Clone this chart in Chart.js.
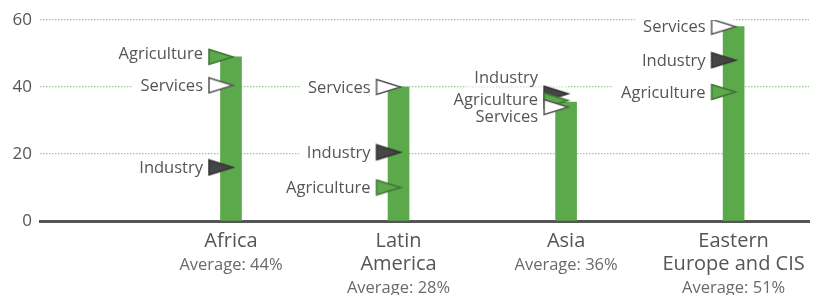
<!DOCTYPE html>
<html>
<head>
<meta charset="utf-8">
<script src="https://cdn.jsdelivr.net/npm/chart.js@4.4.1/dist/chart.umd.min.js"></script>
<style>
  html, body { margin: 0; padding: 0; background: #fff; }
  #wrap { width: 820px; height: 295px; position: relative; }
</style>
</head>
<body>
<div id="wrap"><canvas id="chart"></canvas></div>
<script>
// regions and their name lines under the axis
const categories = ['Africa', 'Latin America', 'Asia', 'Eastern Europe and CIS'];
const categoryLines = [['Africa'], ['Latin', 'America'], ['Asia'], ['Eastern', 'Europe and CIS']];
const averages = [44, 28, 36, 51];

// bar heights and the three sector flags (%)
const barValues = [49, 40, 35.5, 58];
const agriculture = [49, 10, 36, 38.5];
const industry = [16, 20.5, 38, 48];
const services = [40.5, 40, 34, 58];

const yTicks = [0, 20, 40, 60];

// where the flag labels sit relative to their flag (only Asia is stacked)
const labelShift = {
  Agriculture: [-4, 0, -1, 0],
  Industry: [0, 0, -16, 0],
  Services: [0, 0, 9, 0]
};

const FONT = '"Open Sans", "Noto Sans", sans-serif';
const TEXT = '#555';

function makeFlag(fill, stroke) {
  const c = document.createElement('canvas');
  c.width = 54; c.height = 18;
  const g = c.getContext('2d');
  g.beginPath();
  g.moveTo(5, 1.5);
  g.lineTo(29, 9);
  g.lineTo(5, 16.5);
  g.closePath();
  g.fillStyle = fill;
  g.fill();
  g.lineWidth = 1.5;
  g.strokeStyle = stroke;
  g.stroke();
  return c;
}

const toPts = arr => arr.map((v, i) => ({ x: i, y: v }));

function flagSet(name, values, fill, stroke) {
  return {
    type: 'scatter',
    label: name,
    data: toPts(values),
    pointStyle: makeFlag(fill, stroke),
    pointRadius: 10,
    order: 0
  };
}

// labels next to the flags, with a white box that breaks the grid line
const flagLabels = {
  id: 'flagLabels',
  beforeDatasetsDraw(chart) {
    const ctx = chart.ctx;
    const x = chart.scales.x, y = chart.scales.y;
    ctx.save();
    ctx.font = '16.5px ' + FONT;
    ctx.textAlign = 'right';
    ctx.textBaseline = 'middle';
    chart.data.datasets.forEach(ds => {
      if (ds.type !== 'scatter') return;
      ds.data.forEach((p, i) => {
        const px = x.getPixelForValue(p.x) - 28;
        const py = y.getPixelForValue(p.y) + labelShift[ds.label][i];
        const w = ctx.measureText(ds.label).width;
        ctx.fillStyle = '#fff';
        ctx.fillRect(px - w - 8, py - 9, w + 36, 18);
        ctx.fillStyle = TEXT;
        ctx.fillText(ds.label, px, py + 1);
      });
    });
    ctx.restore();
  }
};

// region names and averages under the axis
const regionLabels = {
  id: 'regionLabels',
  afterDraw(chart) {
    const ctx = chart.ctx;
    const x = chart.scales.x;
    const top = chart.chartArea.bottom;
    ctx.save();
    ctx.textAlign = 'center';
    ctx.textBaseline = 'middle';
    categoryLines.forEach((lines, i) => {
      const cx = x.getPixelForValue(i);
      let py = top + 20;
      ctx.font = '20px ' + FONT;
      ctx.fillStyle = TEXT;
      lines.forEach((ln, k) => {
        ctx.fillText(ln, cx, py);
        if (k < lines.length - 1) py += 23;
      });
      ctx.font = '16.5px ' + FONT;
      ctx.fillStyle = '#6a6a6a';
      ctx.fillText('Average: ' + averages[i] + '%', cx, py + 24);
    });
    ctx.restore();
  }
};

new Chart(document.getElementById('chart'), {
  type: 'bar',
  data: {
    labels: categories,
    datasets: [
      {
        label: 'Share',
        data: toPts(barValues),
        backgroundColor: '#5ca94b',
        barThickness: 21,
        order: 10
      },
      flagSet('Services', services, '#ffffff', '#555555'),
      flagSet('Agriculture', agriculture, '#5ca94b', '#3b7534'),
      flagSet('Industry', industry, '#454545', '#333333')
    ]
  },
  options: {
    responsive: true,
    maintainAspectRatio: false,
    animation: false,
    events: [],
    layout: { padding: { top: 20, left: 0, right: 0, bottom: 0 } },
    plugins: { legend: { display: false }, tooltip: { enabled: false } },
    scales: {
      x: {
        type: 'linear',
        min: -1.14,
        max: 3.45,
        offset: false,
        ticks: { display: false },
        grid: { display: false },
        border: { display: true, color: '#555', width: 3 },
        afterFit(s) { s.height = 74; }
      },
      y: {
        min: 0,
        max: 60,
        afterBuildTicks(s) { s.ticks = yTicks.map(v => ({ value: v })); },
        ticks: { color: TEXT, font: { family: FONT, size: 17 }, padding: 8 },
        grid: {
          drawTicks: false,
          color: c => c.tick && c.tick.value === 0 ? 'rgba(0,0,0,0)' : '#9cc794',
          lineWidth: 1.2
        },
        border: { display: false, dash: [1.5, 1.5] },
        afterFit(s) { s.width = 40; }
      }
    }
  },
  plugins: [flagLabels, regionLabels]
});
</script>
</body>
</html>
